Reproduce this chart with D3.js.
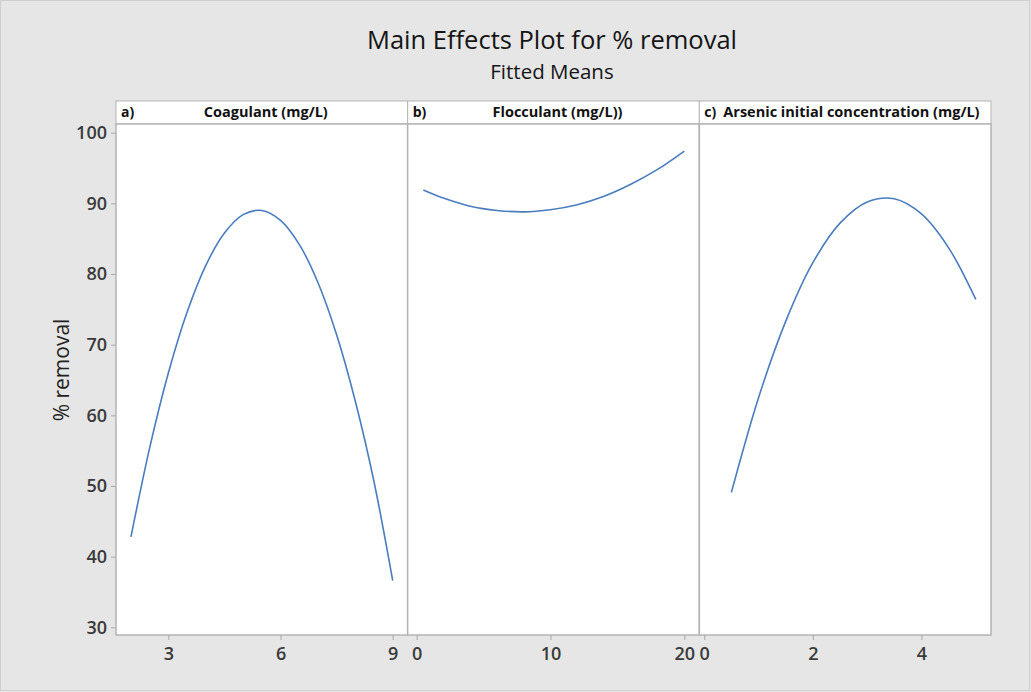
<!DOCTYPE html>
<html>
<head>
<meta charset="utf-8">
<script src="https://cdn.jsdelivr.net/npm/d3@7"></script>
<style>
  body { margin: 0; background: #e6e6e6; }
  svg { display: block; font-family: "Open Sans", "Noto Sans", sans-serif; }
</style>
</head>
<body>
<svg width="1031" height="692"></svg>
<script>
// panel titles
const panelLetters = ["a)", "b)", "c)"];
const panelNames = ["Coagulant (mg/L)", "Flocculant (mg/L))", "Arsenic initial concentration (mg/L)"];

// x values
const coagX = [2, 2.5, 3, 3.5, 4, 4.5, 5, 5.5, 6, 6.5, 7, 7.5, 8, 8.5, 9];
const coagY = [42.8, 55.4, 66.0, 74.6, 81.2, 85.8, 88.4, 89.0, 87.6, 84.2, 78.8, 71.4, 62.0, 50.6, 36.6];

const flocX = [0.5, 2, 4, 6, 8, 10, 12, 14, 16, 18, 20];
const flocY = [91.9, 90.75, 89.6, 89.0, 88.8, 89.1, 89.8, 91.0, 92.7, 94.8, 97.4];

const arsX = [0.5, 1, 1.5, 2, 2.5, 3, 3.5, 4, 4.5, 5];
const arsY = [49.1, 62.5, 73.3, 81.6, 87.2, 90.2, 90.65, 88.5, 83.7, 76.4];

// tick labels
const yTicks = [30, 40, 50, 60, 70, 80, 90, 100];
const coagTicks = [3, 6, 9];
const flocTicks = [0, 10, 20];
const arsTicks = [0, 2, 4];

const panels = [
  { x: coagX, y: coagY, ticks: coagTicks, domain: [1.6, 9.4] },
  { x: flocX, y: flocY, ticks: flocTicks, domain: [-0.67, 21.12] },
  { x: arsX, y: arsY, ticks: arsTicks, domain: [-0.09, 5.28] }
];

const svg = d3.select("svg");
const left = 116, right = 991, headTop = 101, headH = 23, plotTop = 124, plotBottom = 635;
const panelW = (right - left) / 3;

svg.append("rect")
  .attr("x", 0.5).attr("y", 0.5).attr("width", 1029).attr("height", 690)
  .attr("fill", "#e6e6e6").attr("stroke", "#cfcfcf");

// titles
svg.append("text").attr("x", 552).attr("y", 49).attr("text-anchor", "middle")
  .attr("font-size", 25.5).attr("fill", "#151515").text("Main Effects Plot for % removal");
svg.append("text").attr("x", 552).attr("y", 79).attr("text-anchor", "middle")
  .attr("font-size", 20.5).attr("fill", "#151515").text("Fitted Means");

const yScale = d3.scaleLinear().domain([30, 100]).range([627.3, 132.7]);

// y axis
const yAxis = svg.append("g")
  .attr("transform", `translate(${left},0)`)
  .call(d3.axisLeft(yScale).tickValues(yTicks).tickSize(5).tickPadding(4));
yAxis.select(".domain").remove();
yAxis.selectAll("line").attr("stroke", "#a8a8a8");
yAxis.selectAll("text").attr("font-size", 18).attr("font-weight", 600)
  .attr("fill", "#3a3a3a").attr("font-family", "Open Sans");

svg.append("text")
  .attr("transform", "translate(69,370) rotate(-90)")
  .attr("text-anchor", "middle").attr("font-size", 21).attr("fill", "#222")
  .text("% removal");

const line = d3.line().curve(d3.curveCatmullRom);

panels.forEach((p, i) => {
  const x0 = left + i * panelW;
  const xScale = d3.scaleLinear().domain(p.domain).range([x0, x0 + panelW]);

  // header strip
  svg.append("rect")
    .attr("x", x0).attr("y", headTop).attr("width", panelW).attr("height", headH)
    .attr("fill", "#fff").attr("stroke", "#b4b4b4");
  svg.append("text").attr("x", x0 + 5).attr("y", headTop + 16)
    .attr("font-size", 14).attr("font-weight", "bold").attr("fill", "#111")
    .text(panelLetters[i]);
  const name = svg.append("text").attr("y", headTop + 16)
    .attr("font-size", 14.5).attr("font-weight", "bold").attr("fill", "#111")
    .text(panelNames[i]);
  if (i === 2) name.attr("x", x0 + 24);
  else name.attr("x", x0 + panelW / 2 + 4).attr("text-anchor", "middle");

  // plot area
  svg.append("rect")
    .attr("x", x0).attr("y", plotTop).attr("width", panelW).attr("height", plotBottom - plotTop)
    .attr("fill", "#fff").attr("stroke", "#b4b4b4").attr("stroke-width", 1.5);

  // x axis
  const xAxis = svg.append("g")
    .attr("transform", `translate(0,${plotBottom})`)
    .call(d3.axisBottom(xScale).tickValues(p.ticks).tickFormat(d3.format("d")).tickSize(5).tickPadding(7));
  xAxis.select(".domain").remove();
  xAxis.selectAll("line").attr("stroke", "#a8a8a8");
  xAxis.selectAll("text").attr("font-size", 18).attr("font-weight", 600)
    .attr("fill", "#3a3a3a").attr("font-family", "Open Sans");

  svg.append("path")
    .attr("d", line(p.x.map((v, k) => [xScale(v), yScale(p.y[k])])))
    .attr("fill", "none").attr("stroke", "#4a7dbf").attr("stroke-width", 1.6);
});
</script>
</body>
</html>
